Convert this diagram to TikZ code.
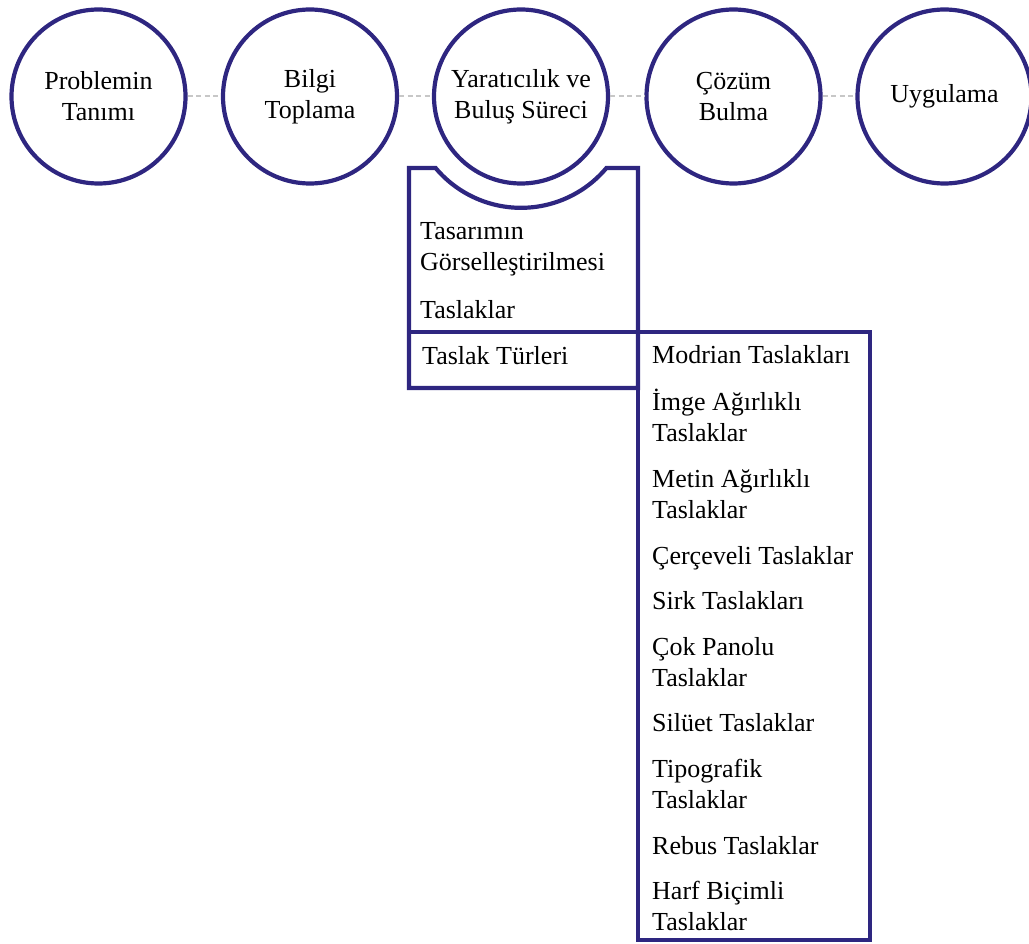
\documentclass[tikz,border=0pt]{standalone}
\usepackage{fontspec}
\setmainfont{Liberation Serif}
\definecolor{koyumavi}{RGB}{46,38,128}
\begin{document}
\begin{tikzpicture}[x=1pt,y=-1pt,
  asama/.style={circle,draw=koyumavi,line width=4.2pt,minimum size=174pt,inner sep=0pt,align=center,font=\fontsize{26}{31}\selectfont},
  baglanti/.style={draw=black!22,line width=2pt,dash pattern=on 5pt off 3.5pt},
  kutu/.style={draw=koyumavi,line width=4.2pt},
  madde/.style={anchor=base west,align=left,inner sep=0pt,font=\fontsize{26}{31}\selectfont}]
  \useasboundingbox (0,0) rectangle (1029,944);
  \node[asama] (tanim) at (98.5,96.5) {Problemin\\Tanımı};
  \node[asama] (bilgi) at (310,96.5) {Bilgi\\Toplama};
  \node[asama] (yaraticilik) at (521,96.5) {Yaratıcılık ve\\Buluş Süreci};
  \node[asama] (cozum) at (733.5,96.5) {Çözüm\\Bulma};
  \node[asama] (uygulama) at (944.5,96.5) {Uygulama};
  \draw[baglanti] (tanim) -- (bilgi);
  \draw[baglanti] (bilgi) -- (yaraticilik);
  \draw[baglanti] (yaraticilik) -- (cozum);
  \draw[baglanti] (cozum) -- (uygulama);
  \draw[kutu] (409,168) -- (435.6,168) arc[start angle=140,end angle=40,radius=111.5]
    -- (638,168) -- (638,388) -- (409,388) -- cycle;
  \draw[kutu] (409,332) -- (638,332);
  \draw[kutu] (638,332) rectangle (870,940);
  \node[madde] (gorsel) at (420,271) {Tasarımın\\Görselleştirilmesi};
  \node[madde] (taslaklar) at (420,319) {Taslaklar};
  \node[madde] (turler) at (422,364) {Taslak Türleri};
  \node[madde] (modrian) at (652,363) {Modrian Taslakları};
  \node[madde] (imge) at (652,441) {İmge Ağırlıklı\\Taslaklar};
  \node[madde] (metin) at (652,518) {Metin Ağırlıklı\\Taslaklar};
  \node[madde] (cerceveli) at (652,564) {Çerçeveli Taslaklar};
  \node[madde] (sirk) at (652,609) {Sirk Taslakları};
  \node[madde] (panolu) at (652,686) {Çok Panolu\\Taslaklar};
  \node[madde] (siluet) at (652,731) {Silüet Taslaklar};
  \node[madde] (tipografik) at (652,808) {Tipografik\\Taslaklar};
  \node[madde] (rebus) at (652,854) {Rebus Taslaklar};
  \node[madde] (harf) at (652,930) {Harf Biçimli\\Taslaklar};
\end{tikzpicture}
\end{document}
